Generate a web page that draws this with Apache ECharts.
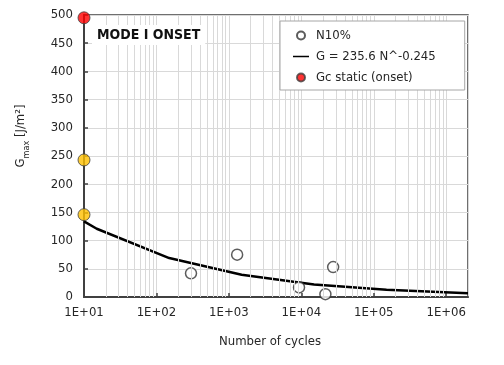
<!DOCTYPE html>
<html><head><meta charset="utf-8">
<script src="https://cdn.jsdelivr.net/npm/echarts@6/dist/echarts.min.js"></script>
<style>html,body{margin:0;padding:0;background:#fff}#c{width:504px;height:365px}</style>
</head><body><div id="c"></div>
<script>
// Data
const n10Cycles = [300, 1300, 9300, 21500, 27500];
const n10G      = [42, 75, 17, 5, 53];
const fitCycles = [10, 15, 150, 1500, 15000, 150000, 2000000];
const fitG      = [134, 121, 69, 39.3, 22.3, 12.7, 6.7];
const gcOnsetCycles = [10];
const gcOnsetG      = [495];
const gcOtherCycles = [10, 10];
const gcOtherG      = [243, 146];
const xTickLabels = ['1E+01','1E+02','1E+03','1E+04','1E+05','1E+06'];
const yTicks = [0,50,100,150,200,250,300,350,400,450,500];

const FONT = "'DejaVu Sans Condensed','DejaVu Sans',sans-serif";
const TXT = '#262626';
const zip = (a,b)=>a.map((v,i)=>[v,b[i]]);

// minor vertical gridlines (2..9 x 10^k)
const minor = [];
for (let e = 1; e <= 6; e++) for (let m = 2; m <= 9; m++) { const v = m*Math.pow(10,e); if (v < 2000000) minor.push({xAxis: v}); }

const LINE_ICON = 'path://M0,4.2L20,4.2L20,5.8L0,5.8Z M0,0L0.001,0L0,0.001Z M20,10L19.999,10L20,9.999Z';

const chart = echarts.init(document.getElementById('c'), null, {renderer:'canvas'});
chart.setOption({
  animation:false,
  textStyle:{fontFamily:FONT},
  title:{text:'MODE I ONSET', left:92, top:25, padding:[3,5,3,5], backgroundColor:'#fff', z:10,
    textStyle:{fontFamily:FONT, fontWeight:'bold', fontSize:14, color:'#111'}},
  legend:{
    orient:'vertical', left:280, top:21, padding:[8,29,6,13], itemGap:8, z:10,
    itemWidth:20, itemHeight:8,
    backgroundColor:'#fff', borderColor:'#a6a6a6', borderWidth:1,
    textStyle:{fontFamily:FONT, fontSize:13, color:TXT},
    data:[
      {name:'N10%', icon:'circle'},
      {name:'G = 235.6 N^-0.245', icon:LINE_ICON},
      {name:'Gc static (onset)', icon:'circle'}
    ]
  },
  grid:{left:84, right:36, top:15, bottom:68, show:true, borderColor:'#404040', borderWidth:1.5, backgroundColor:'transparent'},
  xAxis:{
    type:'log', logBase:10, min:10, max:2000000,
    name:'Number of cycles', nameLocation:'middle', nameGap:38,
    nameTextStyle:{fontFamily:FONT, fontSize:13, color:TXT, padding:[0,12,0,0]},
    axisLine:{lineStyle:{color:'#404040', width:2}},
    axisTick:{inside:true, length:4, lineStyle:{color:'#404040', width:1.5}},
    axisLabel:{fontFamily:FONT, fontSize:13, color:TXT, margin:9, showMaxLabel:false,
      formatter:function(v){ const num = Number(v); const e=Math.round(Math.log10(num)); if (Math.abs(Math.pow(10,e)-num)>1e-6*num) return ''; return xTickLabels[e-1]||''; }},
    splitLine:{show:true, lineStyle:{color:'#d9d9d9', width:1}}
  },
  yAxis:{
    type:'value', min:yTicks[0], max:yTicks[yTicks.length-1], interval:50,
    name:'{g|G}{s|max}{n| [J/m²]}', nameLocation:'middle', nameGap:57, nameRotate:90,
    nameTextStyle:{padding:[0,0,0,40], rich:{
      g:{fontFamily:FONT, fontSize:13, color:TXT},
      s:{fontFamily:FONT, fontSize:9, color:TXT, verticalAlign:'bottom', padding:[0,0,-4,0]},
      n:{fontFamily:FONT, fontSize:13, color:TXT}}},
    axisLine:{lineStyle:{color:'#404040', width:2}},
    axisTick:{inside:true, length:4, lineStyle:{color:'#404040', width:1.5}},
    axisLabel:{fontFamily:FONT, fontSize:13, color:TXT, margin:11},
    splitLine:{show:true, lineStyle:{color:'#d9d9d9', width:1}}
  },
  series:[
    {name:'minor', type:'line', data:[], silent:true, z:1,
      markLine:{silent:true, symbol:['none','none'], label:{show:false}, animation:false,
        lineStyle:{color:'#d9d9d9', width:1, type:'solid'}, data:minor}},
    {name:'G = 235.6 N^-0.245', type:'line', data:zip(fitCycles, fitG), showSymbol:false, symbol:'none',
      lineStyle:{color:'#000', width:2.5}, itemStyle:{color:'#000'}, z:3},
    {name:'N10%', type:'scatter', data:zip(n10Cycles, n10G), symbol:'circle', symbolSize:11, clip:false,
      itemStyle:{color:'#fff', borderColor:'#333', borderWidth:1.5}, z:4},
    {name:'Gc static (onset)', type:'scatter', data:zip(gcOnsetCycles, gcOnsetG), symbolSize:12, clip:false,
      itemStyle:{color:'#ff0000', borderColor:'#404040', borderWidth:1}, z:5},
    {name:'Gc other', type:'scatter', data:zip(gcOtherCycles, gcOtherG), symbolSize:12, clip:false,
      itemStyle:{color:'#ffc000', borderColor:'#404040', borderWidth:1}, z:5}
  ]
});
</script>
</body></html>
